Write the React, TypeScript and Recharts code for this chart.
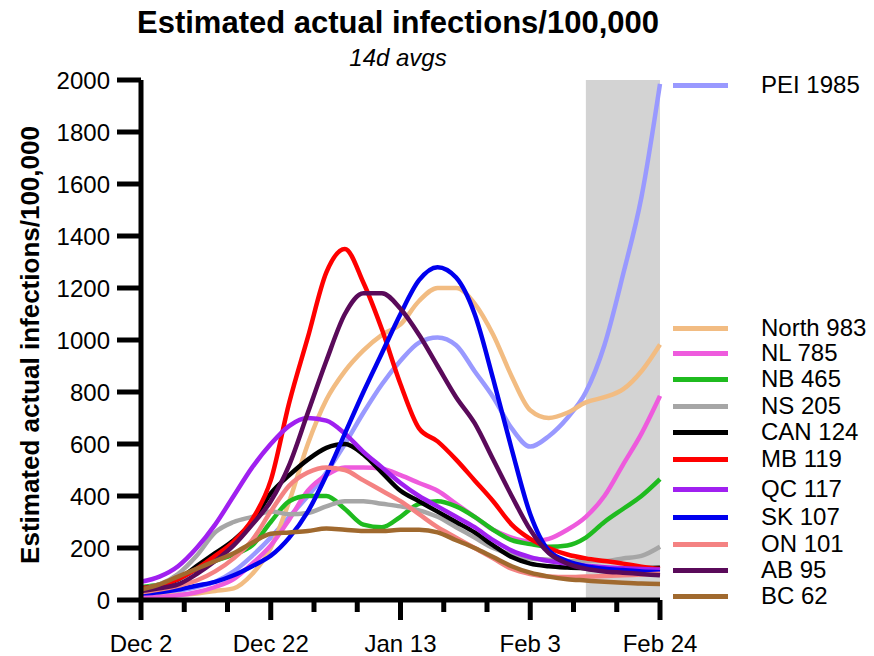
import React from 'react';
import {
  LineChart,
  Line,
  XAxis,
  YAxis,
  ReferenceArea,
} from 'recharts';

// days since Dec 2, sampled every 3 days
const days = [0, 3, 6, 9, 12, 15, 18, 21, 24, 27, 30, 33, 36, 39, 42, 45, 48, 51, 54, 57, 60, 63, 66, 69, 72, 75, 78, 81, 84];

const pei = [20, 25, 35, 50, 70, 110, 170, 240, 320, 400, 490, 600, 720, 830, 920, 990, 1010, 980, 880, 780, 660, 590, 630, 700, 800, 980, 1250, 1550, 1985];
const north = [15, 15, 20, 25, 35, 45, 100, 200, 380, 600, 770, 880, 960, 1020, 1060, 1150, 1200, 1200, 1140, 1020, 860, 730, 700, 720, 760, 780, 810, 880, 983];
const nl = [10, 12, 18, 30, 50, 80, 140, 210, 310, 420, 480, 510, 510, 505, 480, 450, 420, 370, 320, 270, 240, 225, 235, 270, 320, 400, 520, 640, 785];
const nb = [50, 60, 80, 120, 150, 175, 210, 300, 380, 400, 400, 350, 290, 280, 320, 370, 380, 360, 320, 270, 230, 215, 205, 210, 240, 300, 350, 400, 465];
const ns = [45, 60, 100, 170, 260, 300, 320, 340, 330, 335, 360, 380, 380, 370, 360, 345, 320, 280, 240, 200, 175, 160, 155, 150, 150, 150, 160, 170, 205];
const can = [45, 55, 80, 130, 180, 230, 300, 410, 480, 540, 585, 600, 560, 490, 420, 380, 340, 300, 260, 210, 165, 140, 130, 125, 122, 120, 120, 122, 124];
const mb = [45, 55, 80, 120, 170, 225, 310, 460, 760, 1010, 1260, 1350, 1220, 1040, 830, 660, 610, 540, 460, 380, 290, 235, 200, 175, 160, 150, 140, 128, 119];
const qc = [70, 90, 130, 200, 290, 400, 510, 600, 670, 700, 690, 640, 570, 510, 450, 400, 360, 320, 280, 230, 190, 165, 150, 140, 132, 126, 122, 119, 117];
const sk = [25, 30, 40, 55, 70, 95, 130, 170, 240, 340, 480, 640, 800, 950, 1100, 1230, 1280, 1240, 1100, 850, 580, 330, 190, 150, 130, 120, 115, 110, 107];
const on = [30, 40, 55, 75, 110, 160, 230, 340, 440, 490, 510, 500, 460, 420, 380, 330, 280, 240, 200, 160, 120, 100, 90, 88, 90, 92, 95, 98, 101];
const ab = [35, 45, 60, 100, 150, 210, 290, 380, 520, 720, 920, 1100, 1180, 1180, 1120, 1020, 900, 780, 680, 540, 400, 270, 180, 140, 120, 110, 105, 100, 95];
const bc = [40, 60, 90, 120, 150, 180, 220, 255, 260, 265, 275, 270, 265, 265, 270, 270, 260, 230, 200, 165, 130, 105, 90, 80, 75, 70, 66, 63, 62];

const xTicks = [0, 7, 14, 21, 28, 35, 42, 49, 56, 63, 70, 77, 84];
const majorDays = [0, 21, 42, 63, 84];
const majorLabels = ['Dec 2', 'Dec 22', 'Jan 13', 'Feb 3', 'Feb 24'];
const yTicks = [0, 200, 400, 600, 800, 1000, 1200, 1400, 1600, 1800, 2000];
const shadeStart = 72;
const shadeEnd = 84;

const SERIES = [
  { key: 'PEI', name: 'PEI 1985', color: '#9999FF', values: pei },
  { key: 'North', name: 'North 983', color: '#F2BC82', values: north },
  { key: 'NL', name: 'NL 785', color: '#EE5BDD', values: nl },
  { key: 'NB', name: 'NB 465', color: '#1FBB1F', values: nb },
  { key: 'NS', name: 'NS 205', color: '#A6A6A6', values: ns },
  { key: 'CAN', name: 'CAN 124', color: '#000000', values: can },
  { key: 'MB', name: 'MB 119', color: '#FF0000', values: mb },
  { key: 'QC', name: 'QC 117', color: '#A020F0', values: qc },
  { key: 'SK', name: 'SK 107', color: '#0000EE', values: sk },
  { key: 'ON', name: 'ON 101', color: '#F48282', values: on },
  { key: 'AB', name: 'AB 95', color: '#5A0A5A', values: ab },
  { key: 'BC', name: 'BC 62', color: '#A0692E', values: bc },
];

// vertical slot of each legend row (labels sit next to line ends)
const LEGEND_Y = [85, 328, 353, 379, 406, 432, 459, 489, 517, 544, 570, 596];

const FONT = '"Liberation Sans", Arial, sans-serif';

const data = days.map((d, i) => {
  const row: Record<string, number> = { day: d };
  SERIES.forEach(s => {
    row[s.key] = s.values[i];
  });
  return row;
});

function XTick({ x, y, payload }: any) {
  const idx = majorDays.indexOf(payload.value);
  const major = idx >= 0;
  return (
    <g>
      <line x1={x} x2={x} y1={y} y2={y + (major ? 20 : 12)} stroke="#000" strokeWidth={5} />
      {major && (
        <text x={x} y={y + 52} textAnchor="middle" fontSize={24} fontFamily={FONT} fill="#000">
          {majorLabels[idx]}
        </text>
      )}
    </g>
  );
}

function SideLegend() {
  return (
    <>
      {SERIES.map((s, i) => (
        <div key={s.key}>
          <div
            style={{
              position: 'absolute',
              left: 673,
              top: LEGEND_Y[i] - 2.5,
              width: 55,
              height: 5,
              background: s.color,
            }}
          />
          <div
            style={{
              position: 'absolute',
              left: 761,
              top: LEGEND_Y[i] - 14,
              fontSize: 24,
              lineHeight: '28px',
              color: '#000',
              whiteSpace: 'nowrap',
            }}
          >
            {s.name}
          </div>
        </div>
      ))}
    </>
  );
}

export default function App() {
  return (
    <div
      style={{
        position: 'absolute',
        left: 0,
        top: 0,
        width: 874,
        height: 656,
        background: '#fff',
        fontFamily: FONT,
      }}
    >
      <div style={{ position: 'absolute', left: 0, top: 0 }}>
        <LineChart
          width={874}
          height={656}
          data={data}
          margin={{ top: 80, right: 214, bottom: 0, left: 0 }}
        >
          <ReferenceArea x1={shadeStart} x2={shadeEnd} y1={0} y2={2000} fill="#D3D3D3" fillOpacity={1} stroke="none" />
          <XAxis
            dataKey="day"
            type="number"
            domain={[0, 84]}
            ticks={xTicks}
            interval={0}
            height={56}
            tickSize={0}
            tickMargin={0}
            tickLine={false}
            axisLine={{ stroke: '#000', strokeWidth: 5 }}
            tick={<XTick />}
          />
          <YAxis
            type="number"
            domain={[0, 2000]}
            ticks={yTicks}
            interval={0}
            width={141}
            tickSize={24}
            tickMargin={7}
            tickLine={{ stroke: '#000', strokeWidth: 5 }}
            axisLine={{ stroke: '#000', strokeWidth: 5 }}
            tick={{ fontSize: 24, fill: '#000', fontFamily: FONT }}
            label={{
              content: () => (
                <text
                  x={30}
                  y={345}
                  transform="rotate(-90 30 345)"
                  textAnchor="middle"
                  dominantBaseline="central"
                  fontSize={26}
                  fontWeight="bold"
                  fontFamily={FONT}
                  fill="#000"
                >
                  Estimated actual infections/100,000
                </text>
              ),
            }}
          />
          {SERIES.map(s => (
            <Line
              key={s.key}
              type="monotone"
              dataKey={s.key}
              name={s.name}
              stroke={s.color}
              strokeWidth={4.5}
              dot={false}
              isAnimationActive={false}
            />
          ))}
        </LineChart>
      </div>
      <div style={{ position: 'absolute', left: 0, width: 796, top: 5, textAlign: 'center', fontSize: 31, fontWeight: 'bold', lineHeight: '36px' }}>
        Estimated actual infections/100,000
      </div>
      <div style={{ position: 'absolute', left: 0, width: 796, top: 43, textAlign: 'center', fontSize: 24, fontStyle: 'italic', lineHeight: '30px' }}>
        14d avgs
      </div>
      <SideLegend />
    </div>
  );
}
